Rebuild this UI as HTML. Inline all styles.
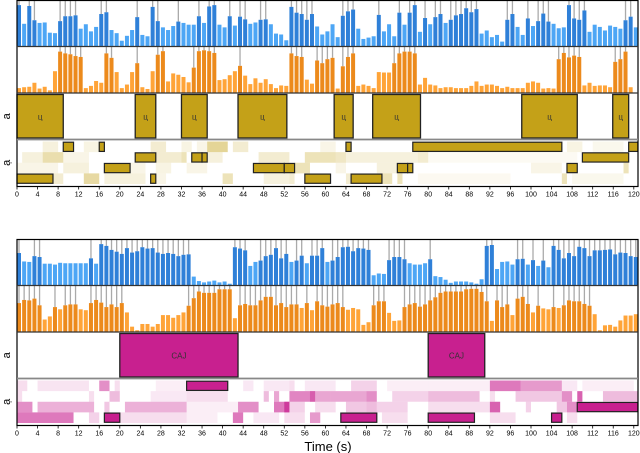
<!DOCTYPE html>
<html><head><meta charset="utf-8"><style>
body{margin:0;background:#fff;}
svg{display:block;font-family:"Liberation Sans",sans-serif;}
</style></head><body>
<svg id="chart" width="640" height="453"></svg>
<script>
const blue1=[.93,.51,.91,.59,.53,.54,.31,.3,.57,.68,.68,.7,.4,.5,.34,.44,.73,.77,.37,.3,.13,.24,.37,.66,.26,.23,.89,.57,.43,.37,.46,.56,.53,.49,.49,.68,.53,.9,.93,.49,.43,.68,.47,.67,.61,.51,.54,.6,.61,.5,.29,.27,.14,.89,.76,.73,.6,.73,.45,.27,.34,.5,.21,.69,.79,.83,.4,.17,.2,.23,.71,.34,.5,.23,.76,.49,.76,.93,.33,.64,.5,.66,.73,.53,.6,.7,.73,.86,.77,.84,.29,.36,.21,.26,.11,.6,.73,.44,.26,.63,.46,.57,.74,.56,.51,.41,.43,.93,.63,.6,.81,.33,.49,.44,.36,.47,.44,.4,.59,.67,.43];
const orange1=[.11,.13,.14,.23,.1,.14,.06,.49,.93,.89,.87,.83,.81,.11,.16,.27,.23,.89,.79,.47,.11,.19,.47,.67,.13,.09,.49,.86,.94,.26,.44,.41,.36,.24,.57,.94,.96,.94,.9,.29,.31,.4,.49,.61,.39,.2,.33,.23,.31,.2,.11,.17,.16,.89,.83,.81,.3,.21,.73,.67,.76,.79,.1,.6,.81,.89,.16,.19,.16,.11,.47,.46,.46,.67,.89,.93,.93,.89,.19,.34,.19,.17,.11,.13,.13,.11,.11,.11,.16,.26,.16,.19,.19,.16,.11,.14,.11,.11,.11,.23,.26,.23,.1,.11,.1,.76,.9,.8,.84,.81,.17,.23,.16,.17,.17,.13,.7,.76,.93,.13,0];
const blue2=[.73,.54,.53,.66,.64,.49,.49,.47,.51,.5,.5,.5,.5,.5,.61,.49,.93,.89,.8,.76,.71,.84,.74,.77,.86,.83,.84,.74,.71,.73,.71,.66,.69,.7,.2,.1,.07,.09,.11,.07,.09,.04,.86,.83,.79,.44,.53,.56,.66,.69,.84,.61,.71,.53,.56,.67,.5,.67,.67,.84,.53,.56,.64,.86,.87,.77,.84,.83,.8,.23,.27,.26,.57,.64,.64,.59,.5,.47,.47,.5,.59,.21,.19,.13,.06,.09,.09,.09,.07,.04,.14,.89,.91,.37,.53,.54,.47,.59,.6,.47,.57,.44,.56,.41,.89,.8,.61,.73,.66,.87,.84,.66,.79,.79,.8,.81,.7,.74,.73,.66,.64];
const orange2=[.65,.72,.71,.75,.6,.28,.35,.56,.51,.6,.62,.62,.51,.49,.65,.72,.66,.56,.62,.56,.65,.44,.12,.04,.18,.18,.12,.18,.38,.38,.32,.38,.44,.59,.76,.91,.88,.88,.88,.96,.96,.96,.31,.6,.63,.6,.6,.71,.79,.79,.6,.65,.56,.62,.62,.54,.65,.49,.69,.6,.57,.62,.65,.56,.5,.54,.51,.16,.22,.6,.69,.69,.43,.25,.26,.56,.62,.65,.57,.62,.71,.78,.88,.91,.91,.91,.91,.96,.97,.97,.9,.69,.25,.71,.56,.62,.38,.75,.79,.63,.44,.59,.53,.51,.56,.54,.6,.71,.69,.69,.63,.59,.4,.04,.15,.16,.12,.26,.37,.37,.4];
const labels1=[[0,9],[23,27],[32,37],[43,52.5],[61.7,65.4],[69.2,78.5],[98.2,109],[115.9,119]];
const labelText1="ц";
const labels2=[[20,43],[80,91]];
const labelText2="CAJ";
// [row,start,end,alpha]
const faint1=[[0,5,8,.15],[0,13,16,.12],[0,26,29,.2],[0,32,34,.12],[0,35,37,.1],[0,37,41,.45],[0,42,45,.2],[0,59,62,.1],[0,89,106,.06],[0,107,110,.12],[0,112,118,.08],[1,1,5,.15],[1,5,9,.35],[1,9,14,.1],[1,27,32,.2],[1,32,33,.3],[1,37,40,.15],[1,47,53,.2],[1,56,62,.3],[1,62,64,.25],[1,64,78,.15],[1,78,80,.2],[1,80,109,.05],[2,0,8,.1],[2,9,14,.15],[2,22,25,.1],[2,27,30,.12],[2,33,37,.1],[2,54,57,.3],[2,62,64,.1],[2,70,74,.15],[2,100,106,.1],[2,118,119,.3],[3,7,9,.2],[3,13,16,.4],[3,17,25,.15],[3,26,29,.1],[3,40,42,.3],[3,48,53,.15],[3,53,54,.2],[3,64,65,.2],[3,71,73,.3],[3,74,75,.3],[3,78,96,.06],[3,106,107,.3],[3,108,118,.08]];
const boxes1=[[0,9,11],[0,16,17],[0,64,65],[0,77,106],[0,119,121],[1,23,27],[1,34,36],[1,36,37],[1,110,119],[2,17,22],[2,46,52],[2,52,54],[2,74,76],[2,76,77],[2,107,109],[3,0,7],[3,26,27],[3,56,61],[3,65,71]];
const faint2=[[0,0,2,.15],[0,4,14,.12],[0,16,18,.5],[0,19,20,.15],[0,27,33,.08],[0,44,46,.1],[0,48,53,.1],[0,53,54,.15],[0,56,62,.1],[0,65,70,.2],[0,72,80,.08],[0,80,92,.08],[0,92,98,.6],[0,98,106,.45],[0,106,109,.1],[0,110,120,.08],[1,0,1,.15],[1,14,15,.15],[1,18,20,.3],[1,26,33,.1],[1,33,41,.15],[1,48,49,.3],[1,50,51,.4],[1,53,58,.55],[1,57,61,.4],[1,61,68,.4],[1,68,70,.5],[1,73,80,.2],[1,80,90,.3],[1,92,93,.15],[1,97,106,.25],[1,106,108,.5],[1,109,110,.7],[1,114,121,.3],[2,0,3,.5],[2,4,15,.35],[2,17,18,.25],[2,21,33,.35],[2,33,43,.08],[2,43,47,.5],[2,50,53,.6],[2,52,53,.7],[2,53,56,.2],[2,58,62,.15],[2,64,68,.25],[2,68,70,.3],[2,70,76,.2],[2,80,92,.15],[2,92,94,.7],[2,99,100,.2],[2,105,107,.25],[2,107,109,.5],[3,0,11,.6],[3,14,16,.2],[3,20,33,.15],[3,33,39,.08],[3,42,44,.6],[3,46,51,.1],[3,52,56,.15],[3,57,59,.45],[3,71,76,.15],[3,92,97,.15],[3,107,109,.15]];
const boxes2=[[0,33,41],[2,109,121],[3,17,20],[3,63,70],[3,80,89],[3,104,106]];
const ticks=[];for(let v=0;v<=120;v+=4)ticks.push(v);

const svg=document.getElementById('chart');
const NS='http://www.w3.org/2000/svg';
const X0=17,UX=5.14,XR=638;
const xs=t=>X0+t*UX;
function mk(tag,at,parent){const e=document.createElementNS(NS,tag);for(const k in at)e.setAttribute(k,at[k]);(parent||svg).appendChild(e);return e;}

function bars(vals,top,h,light,dark,name){
  const g=mk('g',{});
  
  
  vals.forEach((v,i)=>{
    const bh=v*(h-2);const x=xs(i);const y=top+h-bh;
    const hi=v>0.55;
    if(hi){const l=mk('line',{x1:x+2,x2:x+2,y1:top,y2:y,stroke:'#aaa','stroke-width':1.3},g);
      
      }
    const r=mk('rect',{x:x,y:y,width:4,height:bh,fill:hi?dark:light},g);
    
    
  });
}
function labelsPanel(segs,txt,top,h,col,name){
  const g=mk('g',{});
  
  
  segs.forEach(s=>{
    const r=mk('rect',{x:xs(s[0]),y:top+1.5,width:(s[1]-s[0])*UX,height:h-3,fill:col,stroke:'#222','stroke-width':1.3},g);
    
    
    const t=mk('text',{x:xs((s[0]+s[1])/2),y:top+h/2+3,'font-size':8,'text-anchor':'middle',fill:'#333'},g);
    
    
    t.textContent=txt;
  });
}
function heat(faint,boxes,top,h,col,name){
  const g=mk('g',{});
  
  
  const rh=(h-4)/4;
  faint.forEach(s=>{
    const r=mk('rect',{x:xs(s[1]),y:top+2+s[0]*rh,width:(Math.min(s[2],120.8)-s[1])*UX,height:rh,fill:col,'fill-opacity':s[3]},g);
    
    
  });
  boxes.forEach(s=>{
    const r=mk('rect',{x:xs(s[1]),y:top+2+s[0]*rh+0.7,width:(Math.min(s[2],120.8)-s[1])*UX,height:rh-1.4,fill:col,stroke:'#222','stroke-width':1.2},g);
    
    
  });
}
function axis(y,name){
  const g=mk('g',{});
  
  
  ticks.forEach(v=>{
    mk('line',{x1:xs(v),x2:xs(v),y1:y,y2:y+3,stroke:'#000','stroke-width':0.8},g);
    const t=mk('text',{x:xs(v),y:y+10,'font-size':7,'text-anchor':'middle',fill:'#000'},g);
    
    
    t.textContent=v;
  });
}
function panel(top,b,o,labs,txt,faint,boxes,col,pfx){
  const hb=46.5;
  bars(b,top,hb,'#4da6f5','#2f80d8',pfx+'-blue-series');
  bars(o,top+hb,hb,'#ffa438','#ec8a1c',pfx+'-orange-series');
  labelsPanel(labs,txt,top+2*hb,hb,col,pfx+'-label-track');
  heat(faint,boxes,top+3*hb,hb,col,pfx+'-heatmap');
  const fr=mk('rect',{x:X0,y:top+0.5,width:XR-X0,height:4*hb,fill:'none',stroke:'#000','stroke-width':1.2});
  
  
  mk('line',{x1:X0,x2:XR,y1:top+hb,y2:top+hb,stroke:'#333','stroke-width':1.2});
  mk('line',{x1:X0,x2:XR,y1:top+2*hb,y2:top+2*hb,stroke:'#333','stroke-width':1.2});
  mk('line',{x1:X0,x2:XR,y1:top+3*hb,y2:top+3*hb,stroke:'#888','stroke-width':1.8});
  const a1=mk('text',{x:0,y:0,'font-size':11,transform:`translate(10,${top+2.5*hb}) rotate(-90)`,'text-anchor':'middle'});
  
  
  a1.textContent='a';
  const a2=mk('text',{x:0,y:0,'font-size':11,transform:`translate(10,${top+3.5*hb}) rotate(-90)`,'text-anchor':'middle'});
  
  
  a2.textContent='ạ';
  axis(top+4*hb+0.5,pfx+'-x-axis');
}
panel(0,blue1,orange1,labels1,labelText1,faint1,boxes1,'#c4a118','top');
panel(239,blue2,orange2,labels2,labelText2,faint2,boxes2,'#c8208f','bottom');
const tt=mk('text',{x:328,y:451,'font-size':13,'text-anchor':'middle'});


tt.textContent='Time (s)';
</script>
</body></html>
